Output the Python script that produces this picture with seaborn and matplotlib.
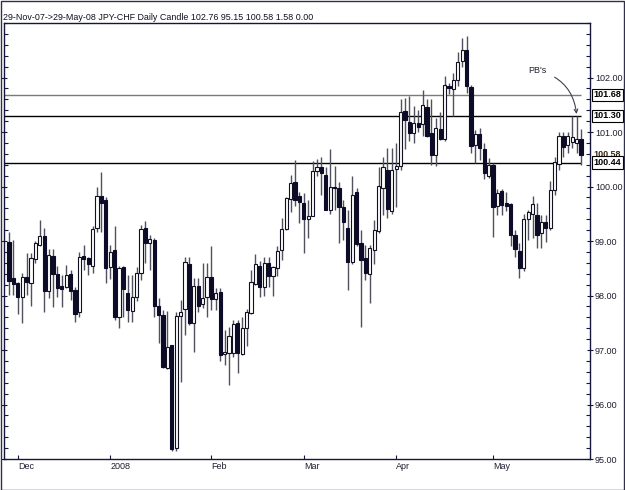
import numpy as np
import pandas as pd
import matplotlib
matplotlib.use("Agg")
import matplotlib.pyplot as plt
import matplotlib.transforms as mtransforms
from matplotlib.patches import Rectangle
from matplotlib.ticker import MultipleLocator, FixedLocator, FormatStrFormatter
import seaborn as sns

sns.set_theme(style="white")
plt.rcParams["font.family"] = ["Liberation Sans", "DejaVu Sans"]

# ---------------------------------------------------------------
# Daily JPY-CHF candles, 29-Nov-07 .. 29-May-08
# ---------------------------------------------------------------
opens = [98.99, 98.32, 98.23, 97.97, 98.34, 98.23, 98.67, 98.93, 99.10, 98.08,
         98.72, 98.40, 98.18, 98.16, 98.40, 98.10, 97.70, 98.73, 98.69, 98.54,
         99.24, 99.83, 99.76, 98.52, 98.83, 97.61, 98.53, 98.05, 97.71, 97.98,
         98.42, 99.24, 98.97, 99.02, 97.81, 97.64, 96.67, 97.09, 95.20, 97.62,
         97.76, 98.58, 97.50, 98.18, 97.85, 97.98, 98.34, 97.94, 98.07, 96.93,
         96.94, 96.95, 97.50, 96.93, 97.40, 97.68, 98.21, 98.54, 98.16, 98.60,
         98.35, 98.51, 98.84, 99.22, 99.77, 100.08, 99.82, 99.70, 99.41, 99.46,
         100.28, 100.35, 100.22, 99.56, 100.00, 99.98, 99.63, 99.24, 98.61, 99.89,
         98.97, 98.69, 98.40, 98.84, 99.18, 99.98, 100.31, 99.55, 100.33, 100.38,
         101.38, 101.18, 100.98, 101.17, 101.14, 101.45, 100.99, 100.58, 101.06, 100.88,
         101.85, 101.79, 101.95, 102.30, 102.50, 101.83, 100.77, 100.97, 100.68, 100.20,
         100.40, 99.64, 99.91, 99.69, 99.67, 99.11, 98.81, 98.50, 99.40, 99.50,
         99.48, 99.15, 99.34, 99.24, 99.94, 100.42, 100.92, 100.76, 100.82, 100.80,
         100.88]
highs = [99.17, 99.02, 98.25, 98.41, 98.78, 98.78, 99.00, 99.39, 99.24, 98.86,
         98.86, 98.54, 98.38, 98.56, 98.47, 98.16, 98.80, 98.93, 98.71, 99.28,
         100.00, 100.27, 99.80, 98.93, 99.27, 98.54, 98.55, 98.38, 98.38, 98.53,
         99.30, 99.37, 99.11, 99.06, 97.96, 97.74, 97.72, 97.10, 97.70, 97.92,
         98.71, 98.70, 98.32, 98.32, 98.60, 98.60, 98.90, 98.14, 98.14, 97.37,
         97.43, 97.55, 97.55, 97.60, 97.75, 98.47, 98.76, 98.64, 98.70, 98.70,
         98.55, 98.90, 99.43, 99.80, 100.22, 100.48, 99.90, 99.88, 99.76, 100.46,
         100.50, 100.55, 100.35, 100.68, 100.38, 100.09, 99.76, 99.57, 100.20, 99.97,
         99.20, 98.93, 98.93, 99.39, 100.35, 100.55, 100.71, 100.70, 100.79, 101.60,
         101.63, 101.66, 101.47, 101.40, 101.77, 101.60, 101.60, 101.25, 101.36, 102.02,
         101.90, 102.09, 102.46, 102.72, 102.76, 101.87, 101.04, 101.08, 100.80, 100.53,
         100.44, 99.96, 99.95, 99.90, 99.70, 99.20, 98.97, 99.50, 99.57, 99.82,
         99.70, 99.47, 99.47, 100.10, 100.55, 101.00, 101.00, 101.00, 101.30, 101.30,
         101.05]
lows = [98.01, 98.01, 97.66, 97.50, 98.01, 97.81, 98.60, 98.90, 97.70, 97.95,
        97.79, 97.97, 97.79, 98.14, 97.92, 97.51, 97.60, 98.47, 98.38, 98.41,
        99.17, 99.17, 98.23, 98.31, 97.55, 97.40, 97.60, 97.52, 97.52, 97.89,
        98.29, 98.60, 98.47, 97.60, 97.13, 96.67, 96.65, 95.15, 95.15, 96.42,
        97.28, 97.46, 96.97, 97.70, 97.77, 97.60, 97.74, 97.74, 96.79, 96.72,
        96.36, 96.88, 96.58, 96.90, 97.07, 97.66, 98.20, 97.98, 98.00, 98.15,
        97.99, 98.35, 98.65, 99.20, 99.54, 99.64, 99.33, 98.78, 99.06, 99.45,
        100.20, 99.85, 99.56, 99.50, 99.57, 98.97, 99.02, 98.10, 98.58, 98.90,
        97.43, 98.29, 97.87, 98.58, 99.15, 99.48, 99.43, 99.50, 99.63, 100.30,
        100.68, 100.83, 100.80, 101.00, 100.92, 100.90, 100.40, 100.38, 100.86, 100.83,
        101.70, 101.30, 101.84, 102.20, 101.72, 100.62, 100.44, 100.49, 100.13, 100.15,
        99.08, 99.48, 99.48, 99.55, 98.90, 98.70, 98.32, 98.45, 99.02, 99.06,
        98.87, 98.87, 98.98, 99.20, 99.85, 100.30, 100.55, 100.62, 100.70, 100.62,
        100.40]
closes = [98.27, 98.21, 97.97, 98.34, 98.25, 98.69, 98.97, 99.10, 98.08, 98.75,
          98.40, 98.14, 98.12, 98.38, 98.08, 97.66, 98.71, 98.67, 98.58, 99.22,
          99.83, 99.70, 98.51, 98.79, 97.61, 98.51, 98.12, 97.73, 97.98, 98.41,
          99.22, 98.97, 99.04, 97.80, 97.64, 96.69, 97.05, 95.18, 97.62, 97.69,
          98.62, 97.50, 98.18, 97.81, 97.96, 98.34, 97.94, 98.05, 96.91, 96.96,
          97.26, 97.48, 96.95, 97.40, 97.69, 98.24, 98.58, 98.16, 98.60, 98.35,
          98.53, 98.81, 99.22, 99.79, 100.07, 99.76, 99.71, 99.41, 99.46, 100.28,
          100.35, 100.24, 99.56, 100.00, 99.98, 99.63, 99.34, 98.61, 99.85, 98.95,
          98.65, 98.41, 98.87, 99.21, 100.00, 100.35, 99.59, 100.31, 100.37, 101.36,
          101.22, 100.98, 101.17, 101.10, 101.49, 100.93, 100.57, 101.08, 100.88, 101.87,
          101.81, 101.95, 102.29, 102.50, 101.85, 100.75, 100.97, 100.71, 100.24, 100.40,
          99.62, 99.88, 99.66, 99.65, 99.11, 98.85, 98.50, 99.41, 99.53, 99.68,
          99.11, 99.34, 99.24, 99.94, 100.45, 100.92, 100.73, 100.92, 100.90, 100.88,
          100.58]

month_starts = ["2007-12-03", "2008-01-01", "2008-02-01", "2008-03-03", "2008-04-01", "2008-05-01"]
month_labels = ["Dec", "2008", "Feb", "Mar", "Apr", "May"]
price_ticks = [95, 96, 97, 98, 99, 100, 101, 102]

level_values = [101.68, 101.30, 100.44]
level_colors = ["#7a7a7a", "#000000", "#000000"]
last_close_label = "100.58"

title = "29-Nov-07->29-May-08 JPY-CHF Daily Candle 102.76 95.15 100.58 1.58 0.00"

df = pd.DataFrame({
    "date": pd.bdate_range("2007-11-29", "2008-05-29"),
    "open": opens, "high": highs, "low": lows, "close": closes,
})
df["pos"] = np.arange(len(df))
up = df[df["close"] >= df["open"]]
dn = df[df["close"] < df["open"]]

AXIS_COL = "#16163c"

fig = plt.figure(figsize=(6.25, 4.9), dpi=100)
ax = fig.add_axes([4 / 625, 1 - 459 / 490, 586 / 625, 436 / 490])

# wicks then bodies
ax.vlines(df["pos"], df["low"], df["high"], color="#50505e", lw=1, zorder=2)
ax.bar(up["pos"], up["close"] - up["open"], bottom=up["open"], width=0.72,
       facecolor="white", edgecolor="#101020", linewidth=0.8, zorder=3)
ax.bar(dn["pos"], dn["open"] - dn["close"], bottom=dn["close"], width=0.72,
       facecolor="#0c0c28", edgecolor="#0c0c28", linewidth=0.8, zorder=3)

# horizontal levels
for val, col in zip(level_values, level_colors):
    ax.hlines(val, -1.2, df["pos"].iloc[-1], color=col, lw=1, zorder=1)

ax.set_xlim(-1.14, 132.05)
ax.set_ylim(95, 103)

# x axis: month starts
tick_pos = df.loc[df["date"].isin(pd.to_datetime(month_starts)), "pos"].tolist()
ax.set_xticks(tick_pos)
ax.set_xticklabels(month_labels, fontsize=6.5, color="#202030")
for lbl in ax.get_xticklabels():
    lbl.set_ha("left")
ax.tick_params(axis="x", direction="in", length=3, width=0.8, color=AXIS_COL,
               bottom=True, top=False, pad=2)

# y axis: labels on the right, minor ticks on both spines
ax.yaxis.set_major_locator(FixedLocator(price_ticks))
ax.yaxis.set_minor_locator(MultipleLocator(0.2))
ax.yaxis.set_major_formatter(FormatStrFormatter("%.2f"))
ax.tick_params(axis="y", which="both", left=True, right=True,
               labelleft=False, labelright=True, color=AXIS_COL, width=0.8)
ax.tick_params(axis="y", which="major", direction="inout", length=5,
               labelsize=6.5, labelcolor="#202030", pad=1)
ax.tick_params(axis="y", which="minor", direction="in", length=3)

for s in ax.spines.values():
    s.set_color(AXIS_COL)
    s.set_linewidth(1)

# boxed price labels on the right axis
trans = mtransforms.blended_transform_factory(ax.transAxes, ax.transData)
ax.text(1.006, 100.58, last_close_label, transform=trans, fontsize=6.5,
        fontweight="bold", color="#3a2a10", va="center", ha="left", zorder=4)
for val in level_values:
    ax.text(1.006, val, f"{val:.2f}", transform=trans, fontsize=6.5,
            fontweight="bold", color="black", va="center", ha="left", zorder=5,
            bbox=dict(boxstyle="square,pad=0.18", fc="white", ec="black", lw=0.8))

# PB's annotation
ax.annotate("PB's", xy=(129.0, 101.33), xytext=(118.0, 102.13),
            fontsize=6.5, color="#202030", ha="left", va="center",
            arrowprops=dict(arrowstyle="->", color="#404050", lw=0.8,
                            connectionstyle="arc3,rad=-0.35",
                            shrinkA=4, shrinkB=0))

fig.text(3 / 625, 1 - 20 / 490, title, fontsize=6.4, color="#101020", va="baseline")

# thin frame around the whole picture
fig.patches.append(Rectangle((0.001, 0.001), 0.997, 0.997, transform=fig.transFigure,
                             fill=False, edgecolor="#30304a", lw=1))

fig.savefig("out.png", dpi=100)
plt.close(fig)
